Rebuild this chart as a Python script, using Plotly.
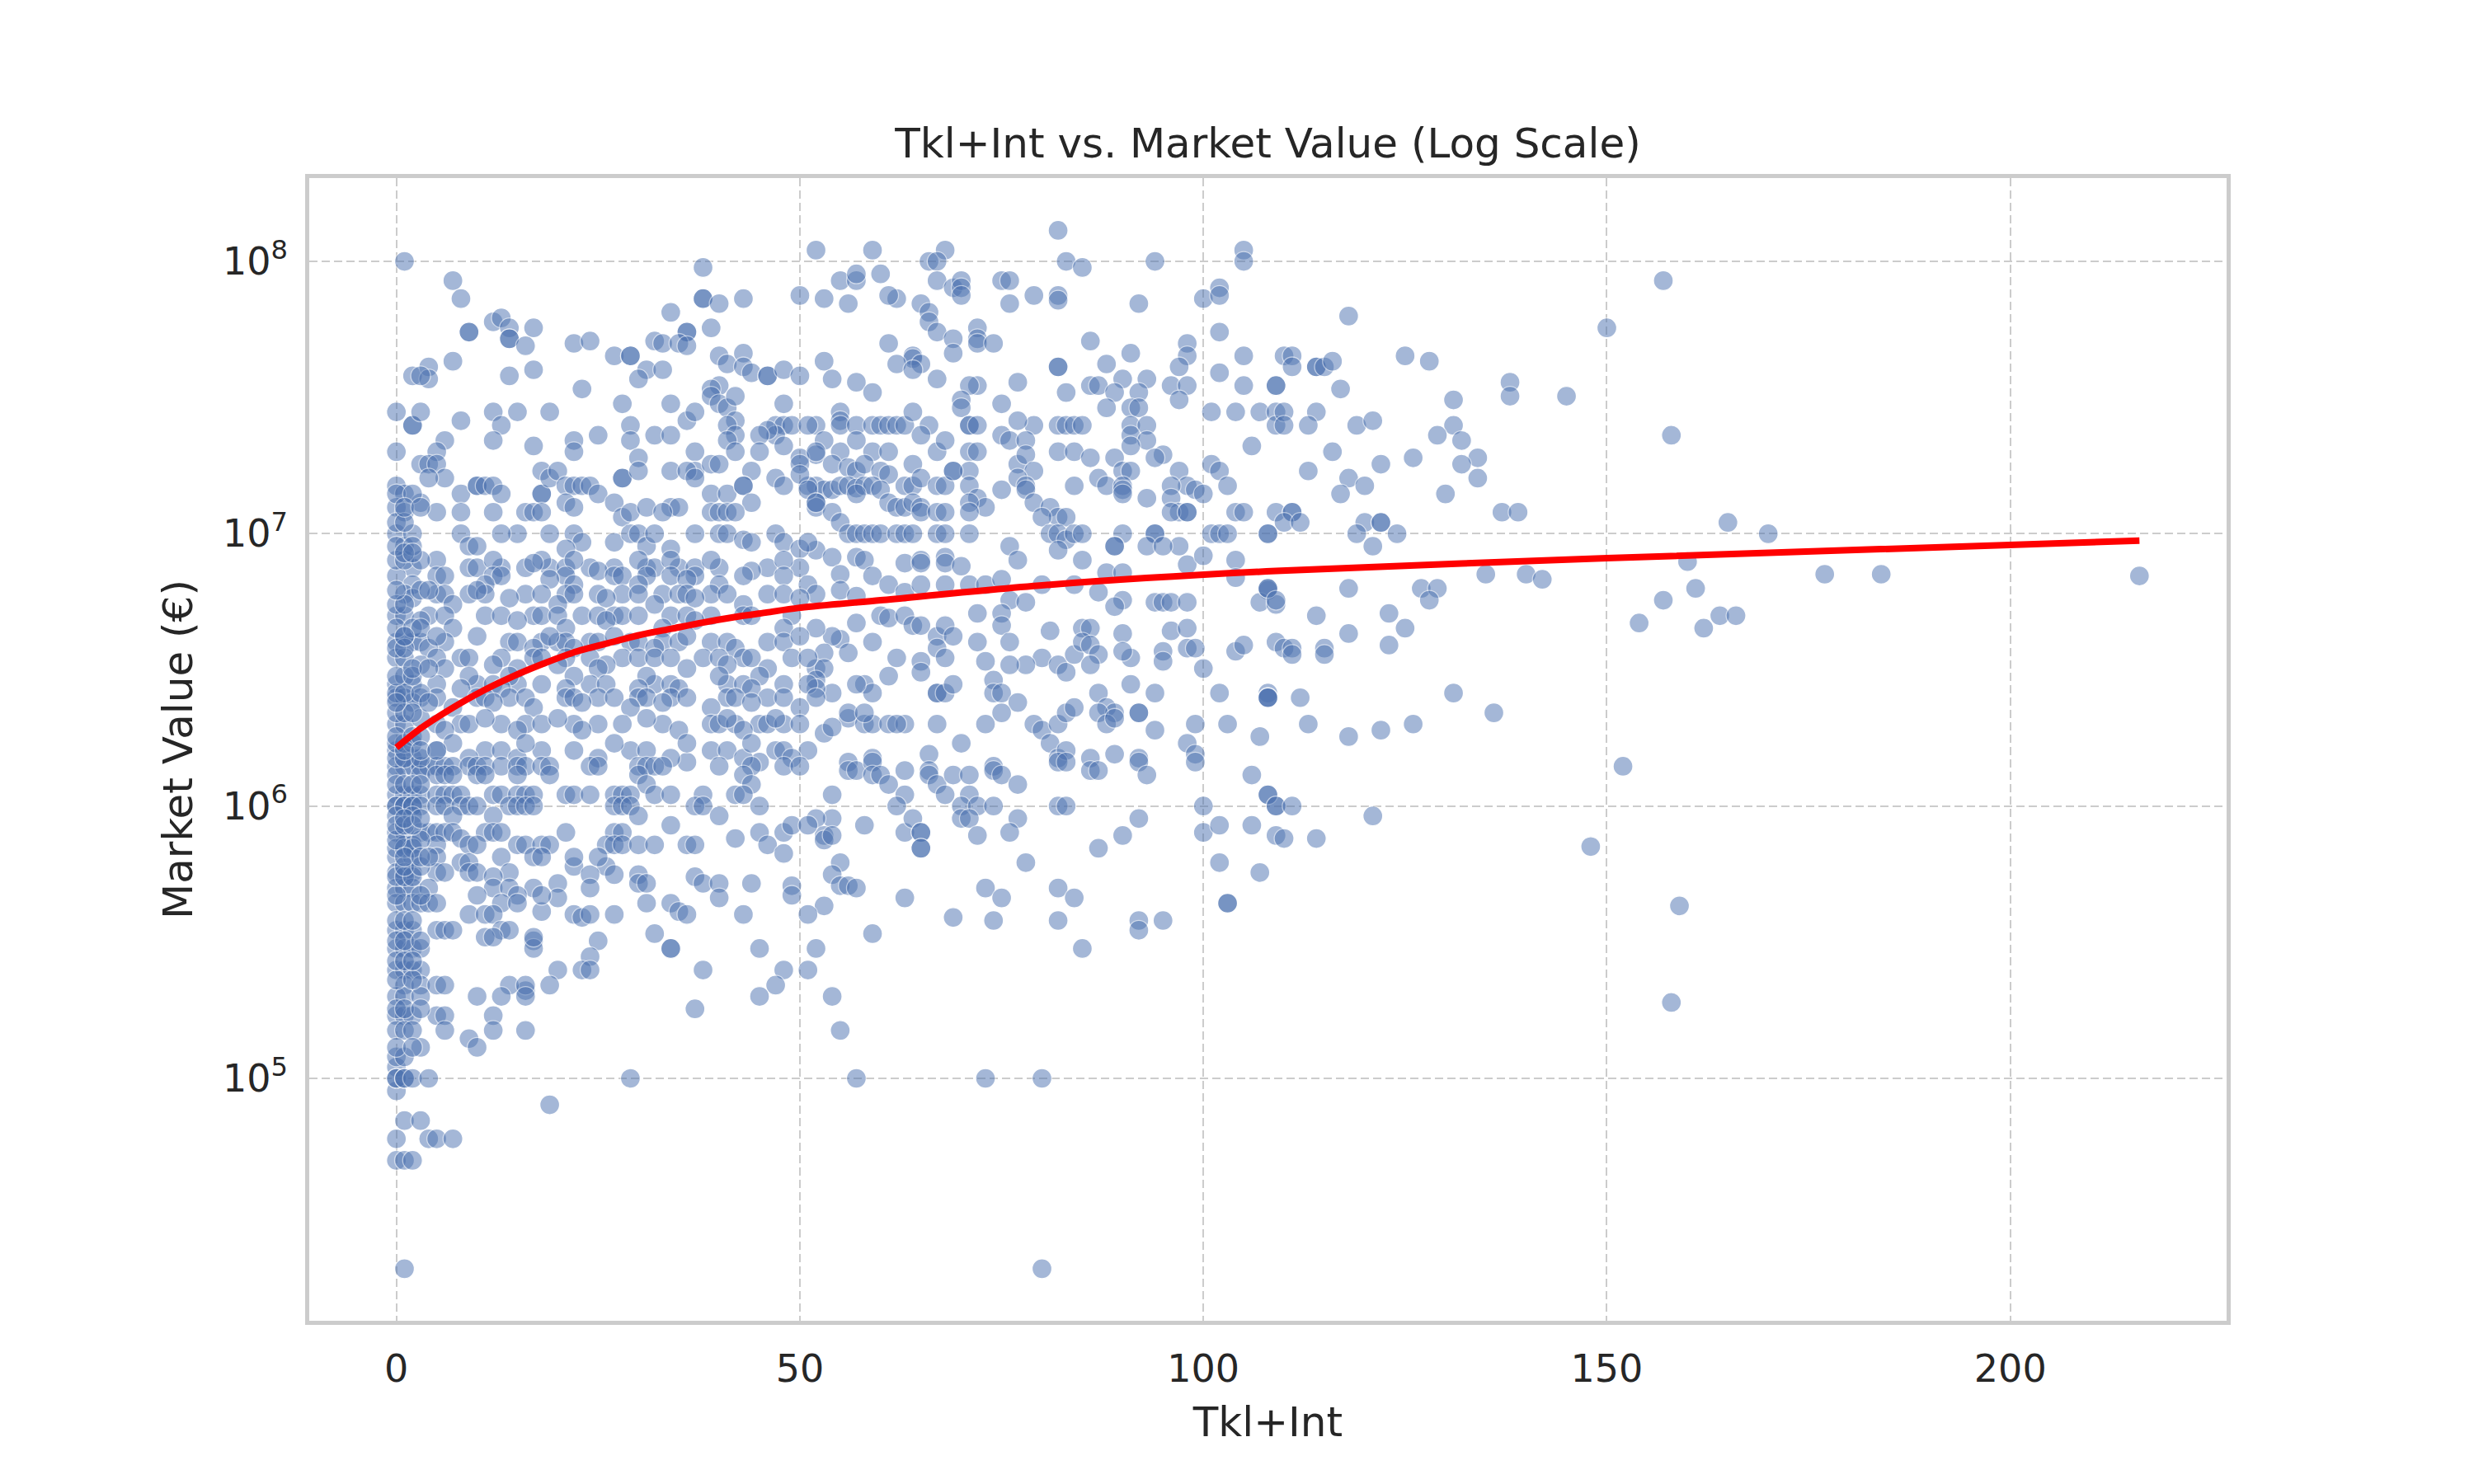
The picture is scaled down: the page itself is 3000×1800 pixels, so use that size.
import plotly.graph_objects as go

# ---- scattered players (Tkl+Int, market value in EUR) ----
# Tkl+Int 52-109, upper part of the cloud
tkl_mid_hi = [
    82, 52, 59, 68, 66, 67, 83, 85, 94, 105,
    105, 55, 57, 57, 60, 53, 56, 62, 61, 67,
    69, 70, 70, 70, 75, 76, 76, 79, 82, 82,
    92, 100, 102, 102, 65, 66, 66, 67, 72, 72,
    72, 74, 69, 69, 61, 53, 64, 64, 65, 62,
    64, 67, 54, 57, 59, 86, 82, 82, 91, 98,
    98, 97, 102, 105, 102, 105, 109, 88, 86, 87,
    90, 89, 93, 92, 96, 98, 97, 91, 92, 88,
    83, 77, 75, 72, 71, 70, 70, 55, 55, 55,
    57, 59, 60, 61, 62, 63, 64, 66, 71, 71,
    72, 79, 82, 83, 84, 85, 101, 104, 107, 109,
    109, 91, 93, 91, 93, 91, 95, 94, 52, 53,
    52, 57, 55, 54, 56, 57, 59, 61, 58, 60,
    61, 65, 67, 68, 64, 69, 71, 71, 72, 75,
    76, 78, 77, 77, 78, 79, 77, 78, 82, 84,
    86, 89, 90, 91, 97, 98, 99, 100, 101, 102,
    96, 106, 103, 52, 53, 54, 55, 56, 57, 58,
    59, 60, 61, 57, 63, 64, 65, 67, 68, 69,
    71, 72, 73, 71, 75, 78, 79, 81, 82, 80,
    83, 84, 87, 88, 90, 90, 90, 93, 96, 97,
    98, 96, 104, 105, 109, 101, 102, 103, 108, 52,
    52, 54, 55, 56, 57, 58, 59, 60, 62, 63,
    64, 65, 65, 67, 68, 62, 63, 64, 67, 68,
    71, 71, 81, 82, 83, 84, 85, 94, 94, 90,
    98, 97, 89, 89, 76, 77, 82, 85, 93, 95,
    98, 100, 104, 52, 54, 55, 57, 58, 59, 63,
    65, 65, 68, 68, 70, 55, 57, 61, 63, 65,
    68, 71, 73, 75, 80, 84, 87, 88, 90, 90,
    89, 94, 95, 96, 98, 108, 107, 109, 104, 76,
    78, 60, 61, 63, 64, 65, 67, 68, 69, 57,
    55, 54, 52, 53, 59, 56, 62, 61, 72, 75,
    75, 76, 72, 73, 67, 68, 65, 65, 81, 80,
    78, 76, 82, 83, 84, 85, 86, 85, 86, 87,
    90, 91, 90, 86, 95, 95, 96, 98, 98, 99,
    100, 104, 105, 109, 52, 53, 52, 54, 52, 58,
    59, 57, 67, 67, 68, 69, 74, 74, 75, 77,
    87, 88, 89, 91, 92, 94, 102, 108, 108, 56,
    56, 58, 59, 61, 63, 62, 53, 54, 58, 67,
    70, 73, 75, 79, 80, 81, 82, 83, 84, 87,
    88, 89, 92, 94, 98, 99, 103, 107, 82, 83,
    86, 89, 92, 99, 59, 56, 66, 74,
]
value_mid_hi = [
    1.3e8, 1.1e8, 1.1e8, 1.1e8, 1e8, 1e8, 1e8, 9.5e7, 1e8, 1.1e8,
    1e8, 8.5e7, 8.5e7, 9e7, 9e7, 7.3e7, 7e7, 7.3e7, 7.5e7, 8.5e7,
    8e7, 8.5e7, 8e7, 7.5e7, 8.5e7, 8.5e7, 7e7, 7.5e7, 7.5e7, 7.2e7,
    7e7, 7.3e7, 8e7, 7.5e7, 7e7, 6.5e7, 6e7, 5.5e7, 5.7e7, 5.2e7,
    5e7, 5e7, 5.2e7, 4.6e7, 5e7, 4.3e7, 4.5e7, 4.4e7, 4.2e7, 4.2e7,
    4e7, 3.7e7, 3.7e7, 3.6e7, 3.3e7, 5.1e7, 4.1e7, 4.1e7, 4.6e7, 5e7,
    4.5e7, 4.1e7, 5.5e7, 4.5e7, 3.9e7, 3.5e7, 3.5e7, 4.2e7, 3.5e7, 3.5e7,
    3.7e7, 3.3e7, 3.7e7, 3.3e7, 3.5e7, 3.5e7, 3.1e7, 2.9e7, 2.9e7, 2.9e7,
    3.3e7, 3.6e7, 3e7, 3.5e7, 3.5e7, 3.1e7, 2.9e7, 2.8e7, 2.6e7, 2.5e7,
    2.5e7, 2.5e7, 2.5e7, 2.5e7, 2.5e7, 2.5e7, 2.8e7, 2.5e7, 2.5e7, 2.5e7,
    2.5e7, 2.5e7, 2.5e7, 2.5e7, 2.5e7, 2.5e7, 2.8e7, 2.8e7, 2.8e7, 2.8e7,
    2.5e7, 2.5e7, 2.5e7, 2.3e7, 2.2e7, 2.1e7, 1.95e7, 1.9e7, 2.5e7, 2.2e7,
    1.95e7, 2.2e7, 2e7, 1.8e7, 1.75e7, 1.7e7, 2e7, 2e7, 1.8e7, 1.7e7,
    1.65e7, 2.3e7, 2e7, 2.2e7, 1.8e7, 1.7e7, 2e7, 1.7e7, 2e7, 2.3e7,
    2.2e7, 2.2e7, 2.6e7, 1.8e7, 1.95e7, 1.7e7, 1.6e7, 1.5e7, 2e7, 2e7,
    1.9e7, 1.9e7, 1.7e7, 1.7e7, 1.7e7, 1.5e7, 1.45e7, 1.4e7, 1.8e7, 1.7e7,
    1.5e7, 2.1e7, 1.5e7, 1.5e7, 1.45e7, 1.45e7, 1.5e7, 1.5e7, 1.47e7, 1.5e7,
    1.5e7, 1.45e7, 1.3e7, 1.4e7, 1.5e7, 1.5e7, 1.6e7, 1.5e7, 1.5e7, 1.7e7,
    1.5e7, 1.35e7, 1.25e7, 1.3e7, 1.45e7, 1.45e7, 1.3e7, 1.25e7, 1.15e7, 1.15e7,
    1.15e7, 1.5e7, 1.6e7, 1.5e7, 1.5e7, 1.45e7, 1.4e7, 1.35e7, 1.35e7, 1.2e7,
    1.2e7, 1.2e7, 1.2e7, 1.2e7, 1.2e7, 1e7, 1e7, 1e7, 1e7, 1.3e7,
    1.25e7, 1.2e7, 1.1e7, 1e7, 1e7, 1e7, 1e7, 1e7, 1.25e7, 1.25e7,
    1.3e7, 1.25e7, 1.2e7, 1.2e7, 1.2e7, 1e7, 1e7, 1e7, 1e7, 1e7,
    1.2e7, 1e7, 1e7, 1e7, 9.5e6, 1e7, 1e7, 1e7, 1e7, 1e7,
    1.2e7, 9e6, 9e6, 9e6, 9e6, 8e6, 8.7e6, 8e6, 9e6, 9e6,
    7.7e6, 8.3e6, 8e6, 8.7e6, 8.2e6, 7.1e6, 8.2e6, 8e6, 7e6, 7.8e6,
    8e6, 7.8e6, 8.2e6, 7.8e6, 7.6e6, 6.2e6, 5.9e6, 6.5e6, 6.1e6, 6.5e6,
    6.5e6, 6.5e6, 6.5e6, 6.8e6, 6.5e6, 6.5e6, 6.1e6, 7.2e6, 7.2e6, 5.7e6,
    5.4e6, 5.6e6, 5.6e6, 5.6e6, 5.6e6, 6.2e6, 5.6e6, 5.5e6, 6.9e6, 5.7e6,
    5.6e6, 5e6, 4.9e6, 5e6, 4.6e6, 4.6e6, 4.2e6, 4.6e6, 4.2e6, 4.7e6,
    4.1e6, 4.2e6, 4.5e6, 3.65e6, 4e6, 3.65e6, 3.5e6, 3e6, 5.1e6, 5.1e6,
    4.6e6, 4e6, 4e6, 3.4e6, 3.8e6, 3.5e6, 3.4e6, 3.1e6, 4.4e6, 3.5e6,
    3.3e6, 3.3e6, 3.3e6, 3.1e6, 3.6e6, 4.5e6, 4.5e6, 4e6, 3.9e6, 3.6e6,
    4.3e6, 3.5e6, 3.7e6, 3.3e6, 3.7e6, 3.4e6, 4.4e6, 4.5e6, 3.8e6, 3.8e6,
    3.2e6, 3.7e6, 3.9e6, 4e6, 3.2e6, 3.2e6, 2.9e6, 2.6e6, 2.7e6, 2.8e6,
    2.6e6, 2.8e6, 2.6e6, 2.6e6, 2.6e6, 2.8e6, 2.9e6, 2.6e6, 2.6e6, 2.4e6,
    2.6e6, 2.3e6, 2.2e6, 2.8e6, 2.2e6, 2.6e6, 2.6e6, 2.6e6, 2.5e6, 2.1e6,
    2.2e6, 2e6, 2e6, 2e6, 2e6, 2e6, 1.85e6, 1.95e6, 2.2e6, 2e6,
    1.7e6, 2e6, 2.2e6, 2e6, 1.9e6, 1.7e6, 2e6, 2.2e6, 2.3e6, 2.2e6,
    2e6, 2.1e6, 2.2e6, 1.9e6, 1.7e6, 2e6, 2e6, 1.8e6, 1.5e6, 1.6e6,
    1.5e6, 1.55e6, 1.5e6, 1.55e6, 1.5e6, 1.45e6, 1.55e6, 1.4e6,
]

# Tkl+Int 52-109, lower part of the cloud
tkl_mid_lo = [
    56, 57, 59, 59, 60, 61, 63, 63, 62, 66,
    66, 67, 68, 69, 71, 71, 70, 72, 74, 75,
    77, 74, 82, 83, 86, 87, 92, 93, 99, 82,
    83, 100, 100, 106, 108, 109, 54, 54, 52, 53,
    53, 54, 58, 63, 64, 65, 65, 65, 65, 70,
    71, 72, 77, 76, 78, 92, 90, 87, 102, 106,
    102, 107, 109, 103, 103, 55, 54, 55, 56, 57,
    53, 63, 59, 69, 73, 75, 74, 82, 84, 82,
    85, 92, 92, 95, 54, 55, 57, 73, 80, 80,
]
value_mid_lo = [
    1.35e6, 1.35e6, 1.45e6, 1.3e6, 1.3e6, 1.2e6, 1.35e6, 1.1e6, 1e6, 1.35e6,
    1.3e6, 1.2e6, 1.1e6, 1.3e6, 1.3e6, 1.1e6, 1e6, 1e6, 1.35e6, 1.3e6,
    1.2e6, 1e6, 1.45e6, 1.45e6, 1.35e6, 1.35e6, 1.45e6, 1.3e6, 1.45e6, 1e6,
    1e6, 1e6, 8e5, 1.3e6, 1.1e6, 1e6, 1.1e6, 9e5, 9e5, 7.8e5,
    7.5e5, 7.8e5, 8.5e5, 8e5, 9e5, 8e5, 8e5, 7e5, 7e5, 9e5,
    9e5, 7.8e5, 9e5, 8e5, 6.2e5, 9e5, 7.8e5, 7e5, 8.5e5, 8.5e5,
    6.2e5, 5.7e5, 7.8e5, 4.4e5, 4.4e5, 6.2e5, 5.6e5, 5.1e5, 5.1e5, 5e5,
    4.3e5, 4.6e5, 3.4e5, 3.9e5, 5e5, 4.6e5, 3.8e5, 5e5, 4.6e5, 3.8e5,
    3e5, 3.8e5, 3.5e5, 3.8e5, 2e5, 1.5e5, 1e5, 1e5, 1e5, 2e4,
]

# Tkl+Int above ~108
tkl_high = [
    157, 118, 150, 110, 111, 111, 114, 114, 115, 116,
    109, 117, 125, 128, 138, 138, 145, 131, 110, 114,
    110, 113, 119, 121, 131, 129, 132, 116, 113, 122,
    126, 134, 132, 134, 118, 120, 117, 130, 111, 111,
    110, 112, 120, 122, 122, 119, 121, 124, 108, 137,
    139, 165, 170, 158, 160, 177, 184, 216, 135, 140,
    142, 108, 108, 109, 118, 127, 129, 128, 161, 157,
    114, 123, 125, 118, 123, 154, 164, 166, 162, 110,
    111, 111, 115, 115, 108, 108, 112, 131, 136, 113,
    118, 122, 126, 152, 108, 109, 111, 121, 110, 114,
    148, 159, 158,
]
value_high = [
    8.5e7, 6.3e7, 5.7e7, 4.5e7, 4.5e7, 4.1e7, 4.1e7, 4.1e7, 4.1e7, 4.3e7,
    3.5e7, 3.4e7, 4.5e7, 4.3e7, 3.6e7, 3.2e7, 3.2e7, 3.1e7, 2.8e7, 2.8e7,
    2.5e7, 2.5e7, 2.5e7, 2.6e7, 2.5e7, 2.3e7, 2.2e7, 2e7, 1.7e7, 1.8e7,
    1.9e7, 1.9e7, 1.8e7, 1.6e7, 1.6e7, 1.5e7, 1.4e7, 1.4e7, 1.2e7, 1.2e7,
    1.1e7, 1.1e7, 1.1e7, 1.1e7, 1.1e7, 1e7, 9e6, 1e7, 1e7, 1.2e7,
    1.2e7, 1.1e7, 1e7, 2.3e7, 7.9e6, 7.1e6, 7.1e6, 7e6, 7.1e6, 7.1e6,
    6.8e6, 6.3e6, 6.3e6, 5.7e6, 6.3e6, 6.3e6, 6.3e6, 5.7e6, 6.3e6, 5.7e6,
    5e6, 5.1e6, 4.5e6, 4.3e6, 3.9e6, 4.7e6, 5e6, 5e6, 4.5e6, 3.8e6,
    3.8e6, 3.6e6, 3.8e6, 3.6e6, 2.5e6, 2.5e6, 2.5e6, 2.6e6, 2.2e6, 2e6,
    1.8e6, 1.9e6, 2e6, 1.4e6, 1.1e6, 1e6, 1e6, 9.2e5, 7.6e5, 7.6e5,
    7.1e5, 4.3e5, 1.9e5,
]

# Tkl+Int 0-52, upper part (above ~9M)
tkl_low_hi = [
    1, 7, 8, 9, 9, 12, 13, 14, 14, 14,
    17, 16, 38, 38, 38, 40, 43, 34, 36, 36,
    39, 50, 22, 24, 27, 29, 29, 32, 33, 35,
    36, 40, 41, 43, 43, 44, 46, 46, 48, 50,
    2, 4, 4, 3, 7, 14, 17, 23, 31, 30,
    33, 40, 39, 39, 40, 41, 42, 42, 41, 42,
    41, 42, 34, 36, 37, 37, 37, 39, 40, 48,
    47, 48, 49, 47, 48, 46, 45, 45, 44, 51,
    50, 50, 51, 52, 28, 29, 29, 32, 34, 30,
    19, 22, 22, 25, 0, 2, 2, 3, 0, 8,
    12, 13, 15, 12, 17, 6, 5, 3, 4, 5,
    6, 4, 0, 1, 3, 8, 10, 10, 11, 12,
    13, 18, 18, 18, 19, 20, 21, 22, 23, 24,
    25, 21, 22, 28, 28, 27, 28, 29, 30, 34,
    36, 37, 31, 39, 41, 43, 43, 44, 47, 48,
    50, 51, 52, 34, 35, 39, 40, 41, 42, 33,
    16, 17, 18, 15, 19, 0, 1, 0, 1, 2,
    5, 8, 8, 9, 10, 12, 13, 22, 23, 21,
    27, 29, 30, 31, 32, 34, 37, 40, 41, 43,
    44, 47, 48, 50, 51,
]
value_low_hi = [
    1e8, 8.5e7, 7.3e7, 5.5e7, 5.5e7, 6e7, 6.2e7, 5.7e7, 5.2e7, 5.2e7,
    5.7e7, 4.9e7, 9.5e7, 7.3e7, 7.3e7, 7e7, 7.3e7, 6.5e7, 5.5e7, 5.5e7,
    5.7e7, 7.5e7, 5e7, 5.1e7, 4.5e7, 4.5e7, 4.5e7, 5.1e7, 5e7, 5e7,
    4.9e7, 4.5e7, 4.2e7, 4.6e7, 4.1e7, 3.9e7, 3.8e7, 3.8e7, 4e7, 3.8e7,
    3.8e7, 4.1e7, 3.7e7, 3.8e7, 4.3e7, 3.8e7, 4e7, 3.4e7, 4e7, 3.7e7,
    4e7, 3.5e7, 3.4e7, 3.2e7, 3e7, 2.9e7, 3.2e7, 2.6e7, 2.5e7, 2.3e7,
    2.2e7, 2e7, 3e7, 2.6e7, 2.8e7, 2e7, 1.7e7, 1.8e7, 1.8e7, 3e7,
    2.5e7, 2.5e7, 2.5e7, 2.3e7, 2.1e7, 2.4e7, 2.3e7, 2e7, 1.7e7, 2.5e7,
    1.9e7, 1.8e7, 1.5e7, 2e7, 3e7, 2.5e7, 2.2e7, 2.3e7, 2.3e7, 1.9e7,
    2.8e7, 2.2e7, 2e7, 2.3e7, 2.8e7, 2.5e7, 2.5e7, 2.8e7, 2e7, 2.6e7,
    2.8e7, 2.5e7, 2.8e7, 2.2e7, 2.1e7, 2.2e7, 2e7, 1.8e7, 1.8e7, 1.8e7,
    1.6e7, 1.6e7, 1.5e7, 1.4e7, 1.3e7, 1.4e7, 1.5e7, 1.5e7, 1.5e7, 1.5e7,
    1.4e7, 1.7e7, 1.4e7, 1.4e7, 1.6e7, 1.7e7, 1.5e7, 1.5e7, 1.5e7, 1.5e7,
    1.4e7, 1.3e7, 1.25e7, 1.6e7, 1.6e7, 1.3e7, 1.15e7, 1.2e7, 1.7e7, 1.7e7,
    1.7e7, 1.6e7, 1.25e7, 1.4e7, 1.4e7, 1.5e7, 1.5e7, 1.3e7, 1.6e7, 1.5e7,
    1.65e7, 1.45e7, 1.3e7, 1.25e7, 1.25e7, 1.2e7, 1.2e7, 1.2e7, 1.2e7, 1.2e7,
    1.2e7, 1.2e7, 1.2e7, 1e7, 1e7, 1.25e7, 1.2e7, 1e7, 9e6, 1e7,
    1.2e7, 1.2e7, 1e7, 9e6, 9e6, 1.2e7, 1e7, 1e7, 9.3e6, 8.8e6,
    9.3e6, 1e7, 1e7, 9e6, 1e7, 8.8e6, 1e7, 1e7, 1e7, 9.5e6,
    9.3e6, 1e7, 9.3e6, 8.8e6, 9.3e6,
]

# Tkl+Int 0-52, scattered low values
tkl_low_lo = [
    1, 0, 1, 2, 0, 4, 5, 7, 1, 3,
    0, 0, 19, 3, 9, 10, 37, 16, 25, 34,
    34, 45, 43, 51, 52, 32, 31, 34, 35, 36,
    27, 22, 23, 24, 24, 17, 17, 18, 37, 38,
    40, 40, 44, 49, 49, 30, 30, 31, 34, 26,
    27, 22, 24, 20, 20, 24, 36, 45,
]
value_low_lo = [
    2e4, 5e4, 5e4, 5e4, 6e4, 6e4, 6e4, 6e4, 7e4, 7e4,
    9e4, 1.1e5, 8e4, 1.3e5, 1.4e5, 1.3e5, 1.8e5, 2.1e5, 3.2e5, 3e5,
    3e5, 3e5, 4e5, 4e5, 3e5, 3.4e5, 4.4e5, 4.4e5, 4.1e5, 4e5,
    4e5, 4e5, 3.9e5, 4e5, 2.8e5, 3.2e5, 3e5, 4.1e5, 5.5e5, 5.2e5,
    5.2e5, 4.6e5, 5.2e5, 5.1e5, 4.7e5, 5.6e5, 5.2e5, 5.2e5, 8.5e5, 6e5,
    5.6e5, 6e5, 5.6e5, 5.2e5, 4.6e5, 5e5, 1.45e6, 1.45e6,
]

# players sharing the same round market value (rows of dots), Tkl+Int 0-52
row_value = [
    7.5e6, 8e6, 7.3e6, 7.8e6,
    7e6, 6.5e6, 6.8e6,
    6e6, 5.8e6, 5.5e6, 6.2e6,
    5e6, 4.8e6, 4.5e6,
    4e6, 4.2e6, 3.8e6,
    3.5e6, 3.3e6, 3.2e6,
    2.8e6, 3e6, 2.7e6,
    2.5e6, 2.4e6, 2.3e6,
    2e6, 2.1e6, 1.9e6,
    1.6e6, 1.5e6, 1.7e6,
    1.4e6, 1.3e6, 1.2e6, 1.1e6, 1e6, 9.2e5, 8e5, 7.6e5, 8.5e5, 7.2e5,
    6.7e5, 6.5e5, 6.2e5, 5.7e5, 5.5e5, 5e5, 4.7e5, 4.4e5, 4e5, 3.5e5,
    3.3e5, 3e5, 2.5e5, 2.2e5, 2e5, 1.7e5, 1.5e5, 1e5,
    # extra stack along Tkl+Int 0-5
    1.2e5, 1.3e5, 1.8e5, 2.3e5, 2.7e5, 3.2e5, 3.8e5, 4.7e5, 5.5e5, 6e5,
    7e5, 7.5e5, 8.5e5, 9e5, 1.2e6, 1.5e6, 1.7e6, 1.8e6, 2.2e6, 2.6e6,
    3e6, 3.8e6, 4.5e6, 5.5e6, 8e6, 9e6, 1.1e7, 1.4e7,
    6.5e5, 1.6e6, 2.4e6, 3.2e6, 4.2e6, 6.2e6, 8.5e6, 1.25e7,
]
row_tkl = [
    [2, 9, 10, 13, 16, 19, 21, 24, 27, 31, 32, 35, 37, 40, 46, 50],
    [5, 12, 18, 22, 30, 34, 39, 48],
    [25, 44],
    [17],
    [0, 5, 6, 12, 13, 21, 27, 28, 31, 34, 37, 43, 48],
    [2, 11, 22, 30, 40, 51],
    [19, 36],
    [1, 5, 6, 9, 11, 16, 18, 21, 22, 25, 28, 30, 33, 35, 36, 39, 41, 46, 48, 52],
    [2, 14, 26, 37, 50],
    [7, 20, 32, 43],
    [10],
    [0, 1, 4, 6, 11, 13, 17, 18, 20, 23, 25, 27, 28, 30, 34, 36, 39, 43, 44, 49],
    [3, 15, 26, 37],
    [7, 21, 33, 48],
    [0, 2, 3, 6, 14, 15, 18, 20, 21, 24, 25, 29, 30, 33, 35, 39, 41, 46, 48],
    [1, 10, 19, 27, 36, 50],
    [4, 17, 22, 32, 42],
    [0, 1, 5, 8, 9, 13, 17, 18, 21, 24, 28, 30, 32, 34, 38, 40, 43, 44, 49, 51],
    [3, 12, 20, 26, 41],
    [6, 15, 25, 36, 46],
    [0, 2, 5, 10, 12, 15, 18, 24, 26, 32, 34, 41, 43, 48, 51],
    [1, 9, 14, 22, 31, 40, 45],
    [8, 13, 21, 30, 35, 44],
    [0, 1, 3, 5, 10, 11, 14, 16, 21, 22, 25, 27, 30, 31, 34, 36, 41, 42, 46, 48, 52],
    [2, 12, 23, 33, 44],
    [7, 17, 29, 39, 50],
    [0, 1, 5, 8, 9, 13, 16, 18, 22, 25, 28, 33, 39, 40, 42, 45, 46, 48, 50],
    [3, 11, 20, 31, 41, 47],
    [6, 15, 23, 35, 43],
    [0, 5, 11, 13, 18, 22, 29, 31, 39, 41, 47, 48, 51],
    [2, 9, 15, 25, 34, 43, 49],
    [7, 16, 27, 36, 44],
    [0, 1, 2, 3, 4, 5, 6, 7, 9, 10, 11, 13, 15, 16, 18, 19, 24, 25, 30, 31, 32, 33, 40, 44, 48, 50],
    [0, 3, 5, 6, 7, 10, 11, 15, 19, 30, 43],
    [31, 44],
    [0, 1, 2, 3, 5, 6, 7, 8, 12, 13, 15, 16, 17, 21, 22, 24, 27, 28, 29, 32, 34, 38, 42, 43],
    [0, 0, 1, 1, 2, 2, 3, 5, 6, 8, 9, 10, 14, 15, 16, 17, 27, 28, 29, 37, 38, 45],
    [0, 2, 7, 12, 30, 40],
    [0, 1, 3, 4, 5, 6, 7, 11, 12, 13, 21, 27, 28, 45, 48],
    [8, 42],
    [49, 51],
    [1, 2, 5, 9, 10, 15, 16, 18, 19, 26, 27, 28, 30, 32, 36, 37, 46],
    [48],
    [0, 2, 5, 13, 17, 18, 22, 25],
    [8, 9],
    [0, 1, 2, 5, 6, 9, 10, 14],
    [12],
    [0, 1, 2, 4, 12, 14, 17],
    [10, 15, 18],
    [0, 1, 2, 3, 4, 5, 13, 15],
    [9, 11, 12],
    [0, 1, 2, 5, 6, 7, 13, 14],
    [11, 12, 17],
    [0, 1, 2, 3],
    [0, 1, 2, 3, 20, 23, 24, 38, 48, 51],
    [1, 3, 5, 6, 14, 16, 19, 47],
    [0, 1, 3, 10, 13, 16, 45],
    [0, 1, 2, 5, 6, 12],
    [0, 1, 2, 6, 12, 16],
    [0, 0, 1, 1, 2, 4, 29],
    [0, 1], [0, 2], [0, 1, 3], [0, 2], [0, 1, 2], [0, 1, 3], [0, 1, 2], [0, 3], [0, 1, 2], [1, 3],
    [0, 1, 2], [0, 3], [0, 1, 2], [1, 3], [0, 1, 2, 3], [0, 1, 3], [0, 1, 2], [0, 2, 3], [0, 1, 2], [0, 1, 3],
    [0, 2], [0, 1], [0, 2, 3], [0, 1], [0, 1, 3], [0, 2], [0, 1], [0, 2],
    [1, 3, 4], [1, 3, 5], [0, 4], [2, 4], [1, 5], [0, 3, 4], [1, 2], [1, 3],
]

# red trend curve
trend_tkl = [0, 2.8, 6.7, 10.6, 14.5, 18.4, 22.4, 26.3, 30.2, 34.1, 38, 41.9,
             45.9, 49.8, 60, 81, 109, 150, 216]
trend_value = [1.64e6, 1.91e6, 2.27e6, 2.64e6, 3.0e6, 3.35e6, 3.7e6, 3.97e6,
               4.25e6, 4.48e6, 4.72e6, 4.94e6, 5.14e6, 5.34e6, 5.7e6, 6.5e6,
               7.3e6, 8.13e6, 9.44e6]

x_ticks = [0, 50, 100, 150, 200]
y_ticks = [1e5, 1e6, 1e7, 1e8]
y_tick_text = ['10<sup>5</sup>', '10<sup>6</sup>', '10<sup>7</sup>', '10<sup>8</sup>']

# gather all the points
xs = tkl_mid_hi + tkl_mid_lo + tkl_high + tkl_low_hi + tkl_low_lo
ys = value_mid_hi + value_mid_lo + value_high + value_low_hi + value_low_lo
for val, row in zip(row_value, row_tkl):
    xs += row
    ys += [val] * len(row)

FONT = 'DejaVu Sans, Liberation Sans, sans-serif'
INK = '#262626'
GRID = '#cccccc'

fig = go.Figure()

fig.add_trace(go.Scatter(
    x=xs, y=ys,
    mode='markers',
    marker=dict(size=24, color='#4c72b0', opacity=0.5,
                line=dict(color='white', width=1.3)),
    showlegend=False,
))

fig.add_trace(go.Scatter(
    x=trend_tkl, y=trend_value,
    mode='lines',
    line=dict(color='#ff0000', width=8, shape='spline', smoothing=0.8),
    showlegend=False,
))

axis_style = dict(
    showgrid=True, gridcolor=GRID, gridwidth=2, griddash='10px,5px',
    showline=True, linecolor=GRID, linewidth=4.5, mirror=True,
    zeroline=False, ticks='',
    tickfont=dict(family=FONT, size=46, color=INK),
    title_font=dict(family=FONT, size=50, color=INK),
)

fig.update_xaxes(
    range=[-10.8, 226.8], tickvals=x_ticks,
    title_text='Tkl+Int', title_standoff=23, ticklabelstandoff=14,
    **axis_style,
)
fig.update_yaxes(
    type='log', range=[4.11, 8.306],
    tickvals=y_ticks, ticktext=y_tick_text,
    title_text='Market Value (€)', title_standoff=22, ticklabelstandoff=12,
    **axis_style,
)

fig.update_layout(
    width=3000, height=1800,
    margin=dict(l=375, r=300, t=216, b=198, autoexpand=False),
    paper_bgcolor='white', plot_bgcolor='white',
    title=dict(text='Tkl+Int vs. Market Value (Log Scale)',
               font=dict(family=FONT, size=50, color=INK),
               x=0.5, xref='paper', xanchor='center',
               y=1 - 173 / 1800, yref='container', yanchor='middle'),
    font=dict(family=FONT, color=INK),
)

# drop the browser's default page margin so the figure sits at the corner
fig.write_html('out.html', config={'displayModeBar': False},
               post_script="document.body.style.margin = '0';")
